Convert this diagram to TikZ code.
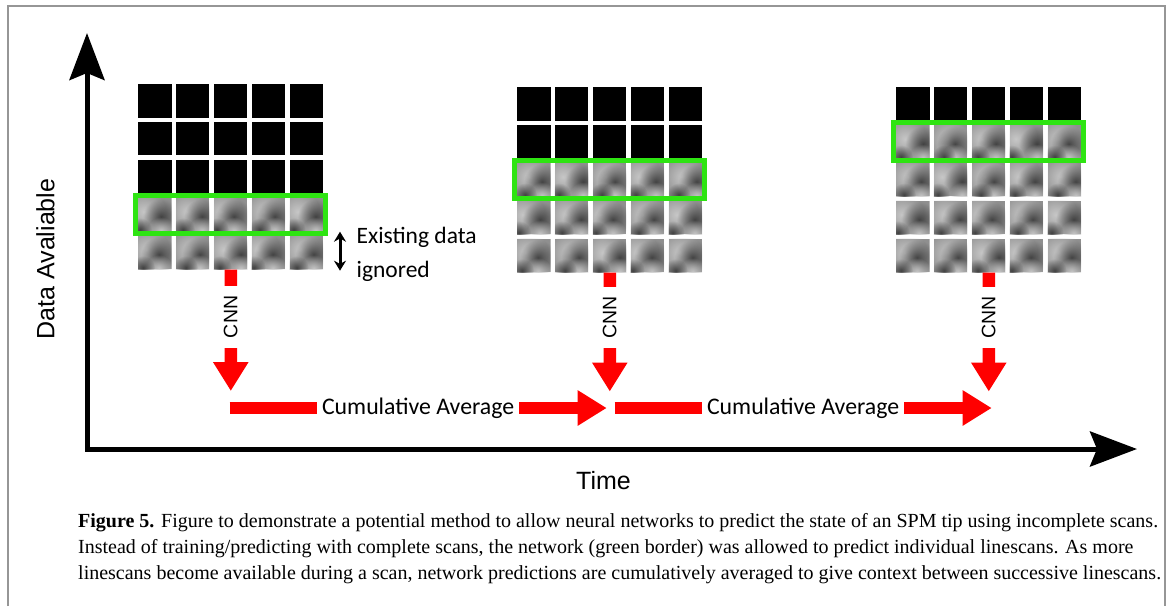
\documentclass[tikz,border=0pt]{standalone}
\usepackage{fontspec}
\setmainfont{Liberation Serif}
\newfontfamily\calibrifont{Carlito}
\newfontfamily\arialfont{Liberation Sans}
\usetikzlibrary{arrows.meta,positioning,calc,fadings}

\definecolor{scanred}{RGB}{255,0,0}
\definecolor{netgreen}{RGB}{46,228,18}
\definecolor{framegray}{RGB}{150,150,150}
\definecolor{scangray}{gray}{0.56}
\tikzfading[name=softblob, inner color=transparent!15, outer color=transparent!100]

\begin{document}
\begin{tikzpicture}[
  x=1pt, y=-1pt,
  axisline/.style={line width=5pt, {Stealth[length=47pt,width=35pt,inset=7pt]}-{Stealth[length=47pt,width=35pt,inset=7pt]}},
  axislabel/.style={font=\arialfont\fontsize{25}{30}\selectfont, inner sep=0pt},
  gridbox/.style={rectangle, inner sep=0pt, minimum width=185.1pt, minimum height=185.1pt},
  netbox/.style={draw=netgreen, line width=5pt},
  lightspot/.style={fill=black!18, path fading=softblob},
  darkspot/.style={fill=black!80, path fading=softblob},
  cnnarrow/.style={draw=scanred, line width=12.5pt, -{Triangle[length=29pt,width=33.5pt]}},
  cnnlabel/.style={fill=white, rotate=90, font=\arialfont\fontsize{19.5}{22}\selectfont, inner xsep=9.5pt, inner ysep=2pt},
  avglabel/.style={fill=white, font=\calibrifont\fontsize{23.8}{28}\selectfont, inner xsep=5pt, inner ysep=2pt},
  notelabel/.style={font=\calibrifont\fontsize{23.5}{34}\selectfont, inner sep=0pt, align=left},
  ignarrow/.style={line width=3pt, {Stealth[length=10pt,width=12pt]}-{Stealth[length=10pt,width=12pt]}},
  captiontext/.style={font=\fontsize{20}{26}\selectfont, inner sep=0pt, align=left}
]
\useasboundingbox (0,0) rectangle (1171,606);

% Frame
\draw[framegray, line width=1.5pt] (8,606) -- (8,6) -- (1165,6) -- (1165,606);

% Axes
\coordinate (origin) at (87,449);
\coordinate (ytip) at (87,33);
\coordinate (xtip) at (1137,449);
\draw[axisline] (ytip) -- (origin) -- (xtip);
\node[axislabel, rotate=90] (avail) at (45.5,259) {Data Avaliable};
\node[axislabel] (time) at (603.5,481) {Time};

% Scans
\foreach \gx/\gy/\nb/\gname in {138/84/3/scanA,517/87/2/scanB,896/87/1/scanC}{
  \foreach \r in {0,...,4}{
    \foreach \c in {0,...,4}{
      \pgfmathsetmacro{\sx}{\gx+\c*37.9}
      \pgfmathsetmacro{\sy}{\gy+\r*37.9}
      \ifnum\r<\nb
        \fill[black] (\sx,\sy) rectangle ++(33.5,33.5);
      \else
        \pgfmathsetmacro{\lx}{6+mod(\c*5+\r*3,9)}
        \pgfmathsetmacro{\dx}{20+mod(\c*3+\r*7,9)}
        \begin{scope}
          \clip (\sx,\sy) rectangle ++(33.5,33.5);
          \fill[scangray] (\sx,\sy) rectangle ++(33.5,33.5);
          \fill[lightspot] (\sx+\lx,\sy+14) circle (22pt);
          \fill[darkspot] (\sx+\dx,\sy+19) circle (18pt);
          \fill[lightspot] (\sx+\dx,\sy+33) circle (14pt);
          \fill[darkspot] (\sx+\lx-4,\sy+32) circle (12pt);
        \end{scope}
      \fi
    }
  }
  \node[gridbox, anchor=north west] (\gname) at (\gx,\gy) {};
  \draw[netbox] (\gx-2.5,\gy+\nb*37.9-2.5) rectangle ++(190.1,38.5);
}

% Existing data
\coordinate (ignA) at (340,231.7);
\coordinate (ignB) at (340,270.7);
\draw[ignarrow] (ignA) -- (ignB);
\node[notelabel, anchor=west] (ignored) at (356.5,254.5) {Existing data\\ignored};

% CNN predictions
\coordinate (predA) at (230.8,391);
\coordinate (predB) at (609.8,391.5);
\coordinate (predC) at (988.8,391.5);
\draw[cnnarrow] (scanA.south) -- node[cnnlabel, pos=0.39] {CNN} (predA);
\draw[cnnarrow] (scanB.south) -- node[cnnlabel, pos=0.38] {CNN} (predB);
\draw[cnnarrow] (scanC.south) -- node[cnnlabel, pos=0.38] {CNN} (predC);

% Cumulative average
\coordinate (avgA) at (229.5,408);
\coordinate (avgB) at (606.7,408);
\coordinate (avgC) at (614.5,408);
\coordinate (avgD) at (991.7,408);
\draw[cnnarrow] (avgA) -- node[avglabel] {Cumulative Average} (avgB);
\draw[cnnarrow] (avgC) -- node[avglabel] {Cumulative Average} (avgD);

% Caption
\node[captiontext, anchor=base west] (caption) at (78,579) {\textbf{Figure 5.} Figure to demonstrate a potential method to allow neural networks to predict the state of an SPM tip using incomplete scans.\\
Instead of training/predicting with complete scans, the network (green border) was allowed to predict individual linescans. As more\\
linescans become available during a scan, network predictions are cumulatively averaged to give context between successive linescans.};

\end{tikzpicture}
\end{document}
